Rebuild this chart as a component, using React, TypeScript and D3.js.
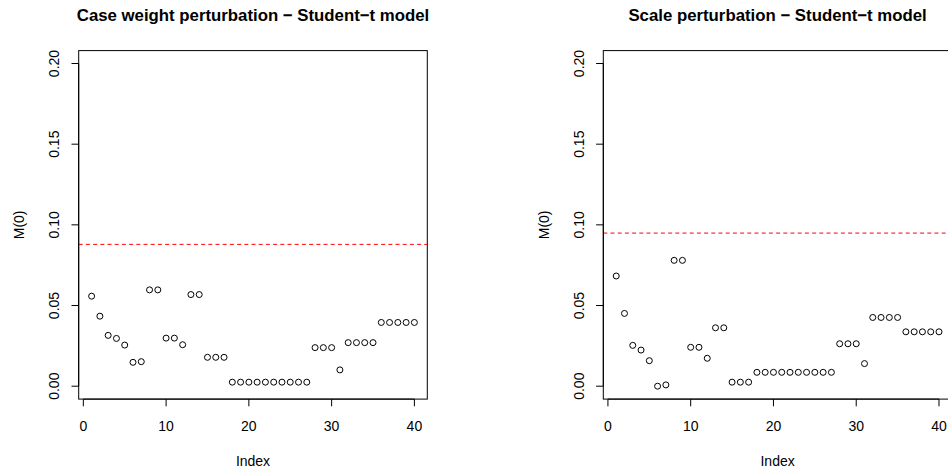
import * as React from "react";
import * as d3 from "d3";

// M(0) values (index 1..40)
const caseWeight = [
  0.0558, 0.0434, 0.0315, 0.0296, 0.0255, 0.0148, 0.0152, 0.0597, 0.0597, 0.0298,
  0.0298, 0.0257, 0.0568, 0.0568, 0.0179, 0.0179, 0.0179, 0.0025, 0.0025, 0.0025,
  0.0025, 0.0025, 0.0025, 0.0025, 0.0025, 0.0025, 0.0025, 0.0239, 0.0239, 0.0239,
  0.0101, 0.027, 0.027, 0.027, 0.027, 0.0395, 0.0395, 0.0395, 0.0395, 0.0395,
];
const scalePert = [
  0.0683, 0.0451, 0.0253, 0.0224, 0.0158, 0.0, 0.0008, 0.078, 0.078, 0.0241,
  0.0241, 0.0173, 0.0362, 0.0362, 0.0025, 0.0025, 0.0025, 0.0086, 0.0086, 0.0086,
  0.0086, 0.0086, 0.0086, 0.0086, 0.0086, 0.0086, 0.0086, 0.0263, 0.0263, 0.0263,
  0.014, 0.0426, 0.0426, 0.0426, 0.0426, 0.0337, 0.0337, 0.0337, 0.0337, 0.0337,
];
const cutoffs = [0.0879, 0.0949];
const titles = [
  "Case weight perturbation \u2212 Student\u2212t model",
  "Scale perturbation \u2212 Student\u2212t model",
];
const xTicks = [0, 10, 20, 30, 40];
const yTicks = [0, 0.05, 0.1, 0.15, 0.2];

const W = 948;
const H = 472;
const PANEL_SHIFT = 524.6;
const box = { left: 78.7, right: 427.3, top: 50.6, bottom: 399.1 };
const font = "'Liberation Sans', Arial, Helvetica, sans-serif";

interface PanelProps {
  values: number[];
  cutoff: number;
  title: string;
  dx: number;
}

function Panel({ values, cutoff, title, dx }: PanelProps) {
  // R style 4% axis expansion
  let x = d3.scaleLinear().domain([1 - 39 * 0.04, 40 + 39 * 0.04]).range([box.left, box.right]);
  let y = d3.scaleLinear().domain([-0.008, 0.208]).range([box.bottom, box.top]);
  let cx = (box.left + box.right) / 2;
  let cy = (box.top + box.bottom) / 2;

  return (
    <g transform={`translate(${dx},0)`} fontFamily={font} fill="#000">
      <text x={cx} y={21} textAnchor="middle" fontWeight="bold" fontSize={16.8}>{title}</text>
      <rect x={box.left} y={box.top} width={box.right - box.left} height={box.bottom - box.top}
        fill="none" stroke="#000" strokeWidth={1} />
      <line x1={box.left} x2={box.right} y1={y(cutoff)} y2={y(cutoff)}
        stroke="#ff0000" strokeWidth={1} strokeDasharray="4,3.2" />
      {values.map((v, i) => (
        <circle key={i} cx={x(i + 1)} cy={y(v)} r={3.0} fill="none" stroke="#000" strokeWidth={1} />
      ))}
      {/* x axis */}
      <line x1={x(0)} x2={x(40)} y1={box.bottom} y2={box.bottom} stroke="#000" />
      {xTicks.map((t) => (
        <g key={t}>
          <line x1={x(t)} x2={x(t)} y1={box.bottom} y2={box.bottom + 7.2} stroke="#000" />
          <text x={x(t)} y={430.7} textAnchor="middle" fontSize={14}>{t}</text>
        </g>
      ))}
      {/* y axis */}
      <line x1={box.left} x2={box.left} y1={y(0)} y2={y(0.2)} stroke="#000" />
      {yTicks.map((t) => (
        <g key={t}>
          <line x1={box.left - 7.2} x2={box.left} y1={y(t)} y2={y(t)} stroke="#000" />
          <text transform={`translate(59,${y(t)}) rotate(-90)`} textAnchor="middle" fontSize={14}>
            {d3.format(".2f")(t)}
          </text>
        </g>
      ))}
      <text x={cx} y={466} textAnchor="middle" fontSize={14}>Index</text>
      <text transform={`translate(24,${cy}) rotate(-90)`} textAnchor="middle" fontSize={14}>M(0)</text>
    </g>
  );
}

export default function App() {
  return (
    <svg width={W} height={H} style={{ position: "absolute", left: 0, top: 0, background: "#fff" }}>
      <rect width={W} height={H} fill="#fff" />
      <Panel values={caseWeight} cutoff={cutoffs[0]} title={titles[0]} dx={0} />
      <Panel values={scalePert} cutoff={cutoffs[1]} title={titles[1]} dx={PANEL_SHIFT} />
    </svg>
  );
}
